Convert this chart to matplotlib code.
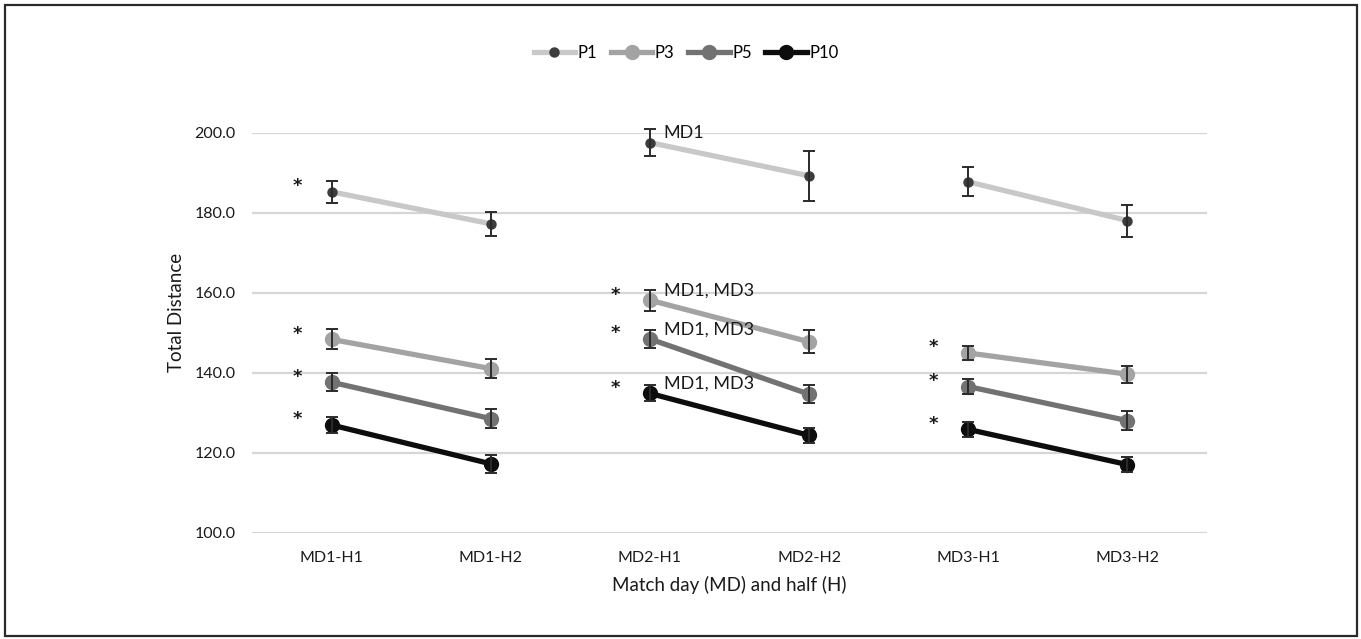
import matplotlib.pyplot as plt
import matplotlib.patches as patches
import numpy as np

plt.rcParams['font.family'] = ['Lato', 'DejaVu Sans']

categories = ['MD1-H1', 'MD1-H2', 'MD2-H1', 'MD2-H2', 'MD3-H1', 'MD3-H2']
series_names = ['P1', 'P3', 'P5', 'P10']

p1 = [185.3, 177.3, 197.6, 189.3, 187.8, 178.1]
p3 = [148.4, 141.1, 158.2, 147.8, 145.0, 139.7]
p5 = [137.7, 128.6, 148.5, 134.7, 136.6, 128.1]
p10 = [127.0, 117.3, 134.9, 124.4, 125.9, 117.1]

p1_err = [2.7, 3.0, 3.4, 6.3, 3.6, 4.0]
p3_err = [2.5, 2.4, 2.6, 2.9, 1.8, 2.1]
p5_err = [2.2, 2.3, 2.3, 2.3, 1.9, 2.4]
p10_err = [1.9, 2.2, 2.0, 1.9, 1.9, 1.8]

# significance labels next to the H1 points
stars = {'P1': [0], 'P3': [0, 2, 4], 'P5': [0, 2, 4], 'P10': [0, 2, 4]}
notes = {'P1': {2: 'MD1'}, 'P3': {2: 'MD1, MD3'}, 'P5': {2: 'MD1, MD3'}, 'P10': {2: 'MD1, MD3'}}

values = [p1, p3, p5, p10]
errors = [p1_err, p3_err, p5_err, p10_err]
line_colors = ['#c8c8c8', '#a3a3a3', '#727272', '#0d0d0d']
marker_colors = ['#3c3c3c', '#a3a3a3', '#727272', '#0d0d0d']
marker_sizes = [6.5, 10, 10, 10]

fig = plt.figure(figsize=(13.61, 6.39), dpi=100)
ax = fig.add_axes([252 / 1361, 1 - 533 / 639, (1207 - 252) / 1361, 400 / 639])

x = np.arange(len(categories))
handles = []
for name, v, e, lc, mc, ms in zip(series_names, values, errors, line_colors, marker_colors, marker_sizes):
    v = np.array(v)
    e = np.array(e)
    for k in range(0, 6, 2):
        xs = x[k:k + 2]
        ax.errorbar(xs, v[k:k + 2], yerr=e[k:k + 2], fmt='none', ecolor='#2b2b2b',
                    elinewidth=1.4, capsize=4, capthick=1.4, zorder=4, clip_on=False)
        h, = ax.plot(xs, v[k:k + 2], color=lc, lw=3.8, marker='o', ms=ms,
                     markerfacecolor=mc, markeredgecolor=mc, zorder=3, clip_on=False)
    handles.append(h)
    for k in stars[name]:
        ax.annotate('*', (x[k], v[k]), xytext=(-25, 4), textcoords='offset points',
                    ha='center', va='center', fontsize=13, fontweight='bold',
                    family='DejaVu Sans', color='#1a1a1a')
    for k, txt in notes[name].items():
        ax.annotate(txt, (x[k], v[k]), xytext=(10, 7), textcoords='offset points',
                    ha='left', va='center', fontsize=13, color='#1a1a1a')

ax.set_xlim(-0.5, 5.5)
ax.set_ylim(100, 200)
ax.set_yticks(np.arange(100, 201, 20))
ax.set_yticklabels(['%.1f' % t for t in np.arange(100, 201, 20)])
ax.set_xticks(x)
ax.set_xticklabels(categories)
ax.tick_params(length=0, labelsize=11.5, colors='#1a1a1a')
ax.tick_params(axis='x', pad=13)
ax.tick_params(axis='y', pad=12)
ax.grid(axis='y', color='#d6d6d6', lw=1.6)
ax.set_axisbelow(True)
for s in ax.spines.values():
    s.set_visible(False)

fig.text(176 / 1361, 1 - 312 / 639, 'Total Distance', rotation=90, ha='center', va='center',
         fontsize=13.5, color='#1a1a1a')
fig.text(729 / 1361, 1 - 585 / 639, 'Match day (MD) and half (H)', ha='center', va='center',
         fontsize=13.5, color='#1a1a1a')

fig.legend(handles, series_names, loc='center', bbox_to_anchor=(686 / 1361, 1 - 53 / 639),
           ncol=4, frameon=False, fontsize=12, handlelength=2.5, handletextpad=0.15,
           columnspacing=0.8)

fig.patches.append(patches.Rectangle((5 / 1361, 3 / 639), 1352 / 1361, 631 / 639,
                                     transform=fig.transFigure, fill=False,
                                     edgecolor='#2a2a2a', lw=1.6))

fig.savefig('out.png', dpi=100)
